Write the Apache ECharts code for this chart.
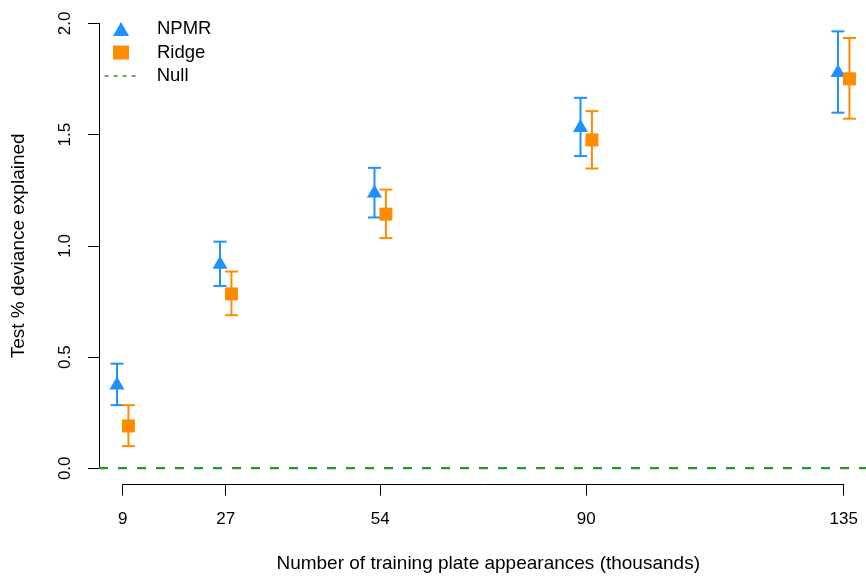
<!DOCTYPE html>
<html>
<head>
<meta charset="utf-8">
<script src="https://cdn.jsdelivr.net/npm/echarts@6/dist/echarts.min.js"></script>
<style>
html,body{margin:0;padding:0;background:#fff;}
#chart{width:866px;height:578px;}
</style>
</head>
<body>
<div id="chart"></div>
<script>
// ---- data ----
const xValues = [9, 27, 54, 90, 135];
const xTickLabels = ['9', '27', '54', '90', '135'];
const npmrMean = [0.368, 0.913, 1.234, 1.530, 1.778];
const npmrLo   = [0.277, 0.815, 1.124, 1.401, 1.597];
const npmrHi   = [0.464, 1.015, 1.348, 1.664, 1.964];
const ridgeMean = [0.183, 0.779, 1.139, 1.474, 1.750];
const ridgeLo   = [0.092, 0.683, 1.031, 1.345, 1.570];
const ridgeHi   = [0.277, 0.880, 1.250, 1.604, 1.934];
const nullValue = 0;

// ---- style ----
const BLUE = '#1E90FF', ORANGE = '#FF8C00', GREEN = '#229922';
const FONT = 'Liberation Sans, Arial, Helvetica, sans-serif';
const DODGE = 1;

const chart = echarts.init(document.getElementById('chart'), null, {renderer: 'canvas'});

function pts(mean, dx) {
  return xValues.map((x, i) => [x + dx, mean[i]]);
}
function bars(lo, hi, dx) {
  return xValues.map((x, i) => [x + dx, lo[i], hi[i]]);
}
function errRender(color) {
  return function (params, api) {
    const x = api.value(0);
    const p1 = api.coord([x, api.value(1)]);
    const p2 = api.coord([x, api.value(2)]);
    const hw = 6.5;
    const st = {stroke: color, lineWidth: 2};
    return {
      type: 'group',
      children: [
        {type: 'line', shape: {x1: p1[0], y1: p1[1], x2: p2[0], y2: p2[1]}, style: st},
        {type: 'line', shape: {x1: p1[0] - hw, y1: p1[1], x2: p1[0] + hw, y2: p1[1]}, style: st},
        {type: 'line', shape: {x1: p2[0] - hw, y1: p2[1], x2: p2[0] + hw, y2: p2[1]}, style: st}
      ]
    };
  };
}

const gridTop = 23.4, gridBottom = 109.7;
const legendText = {color: '#000', fontSize: 18.5, fontFamily: FONT};

const option = {
  animation: false,
  backgroundColor: '#ffffff',
  textStyle: {fontFamily: FONT},
  grid: [
    {left: 122.7, right: 22.3, top: gridTop, bottom: gridBottom},
    {left: 99, right: 0, top: gridTop, bottom: gridBottom}
  ],
  xAxis: [
    {
      gridIndex: 0, type: 'value', min: 9, max: 135, position: 'bottom', offset: 18,
      axisLine: {show: true, onZero: false, lineStyle: {color: '#000', width: 1}},
      axisTick: {show: true, customValues: xValues, length: 11, lineStyle: {color: '#000', width: 1}},
      axisLabel: {
        show: true, customValues: xValues, margin: 26,
        formatter: v => xTickLabels[xValues.indexOf(v)],
        color: '#000', fontSize: 17, fontFamily: FONT
      },
      splitLine: {show: false},
      name: 'Number of training plate appearances (thousands)',
      nameLocation: 'middle', nameGap: 69.5,
      nameTextStyle: {color: '#000', fontSize: 19, fontFamily: FONT, padding: [0, 0, 0, 10]}
    },
    {
      gridIndex: 1, type: 'value', min: 0, max: 1, show: false,
      axisLine: {onZero: false}
    }
  ],
  yAxis: [
    {gridIndex: 0, type: 'value', min: 0, max: 2, show: false, splitLine: {show: false}},
    {
      gridIndex: 1, type: 'value', min: 0, max: 2, interval: 0.5,
      axisLine: {show: true, onZero: false, lineStyle: {color: '#000', width: 1}},
      axisTick: {show: true, length: 11, lineStyle: {color: '#000', width: 1}},
      axisLabel: {
        show: true, rotate: 90, margin: 25,
        formatter: v => v.toFixed(1),
        color: '#000', fontSize: 17, fontFamily: FONT
      },
      splitLine: {show: false},
      name: 'Test % deviance explained',
      nameLocation: 'middle', nameGap: 71,
      nameTextStyle: {color: '#000', fontSize: 19, fontFamily: FONT}
    }
  ],
  legend: [
    {
      orient: 'vertical', left: 108, top: 14.5,
      itemWidth: 16, itemHeight: 14, itemGap: 4.5,
      textStyle: Object.assign({padding: [0, 0, 0, 23]}, legendText),
      data: [{name: 'NPMR'}, {name: 'Ridge'}]
    },
    {
      orient: 'vertical', left: 99, top: 61.5,
      itemWidth: 34, itemHeight: 14,
      textStyle: Object.assign({padding: [0, 0, 0, 13]}, legendText),
      data: [{
        name: 'Null',
        lineStyle: {width: 1.3, type: [4, 5], color: GREEN},
        itemStyle: {opacity: 0, color: 'rgba(0,0,0,0)', borderWidth: 0}
      }]
    }
  ],
  series: [
    {
      name: 'Null', type: 'line', xAxisIndex: 1, yAxisIndex: 1,
      data: [[0, nullValue], [1, nullValue]],
      symbol: 'none', lineStyle: {color: GREEN, width: 2.5, type: [9, 10]},
      itemStyle: {color: GREEN}, silent: true, z: 1
    },
    {
      name: 'NPMR err', type: 'custom', xAxisIndex: 0, yAxisIndex: 0,
      data: bars(npmrLo, npmrHi, -DODGE), renderItem: errRender(BLUE), clip: false, z: 2
    },
    {
      name: 'Ridge err', type: 'custom', xAxisIndex: 0, yAxisIndex: 0,
      data: bars(ridgeLo, ridgeHi, DODGE), renderItem: errRender(ORANGE), clip: false, z: 2
    },
    {
      name: 'NPMR', type: 'scatter', xAxisIndex: 0, yAxisIndex: 0,
      data: pts(npmrMean, -DODGE), symbol: 'triangle', symbolSize: [15, 13],
      symbolOffset: [0, -2], itemStyle: {color: BLUE, opacity: 1}, clip: false, z: 3
    },
    {
      name: 'Ridge', type: 'scatter', xAxisIndex: 0, yAxisIndex: 0,
      data: pts(ridgeMean, DODGE), symbol: 'rect', symbolSize: 13,
      itemStyle: {color: ORANGE, opacity: 1}, clip: false, z: 3
    }
  ]
};
chart.setOption(option);
</script>
</body>
</html>
